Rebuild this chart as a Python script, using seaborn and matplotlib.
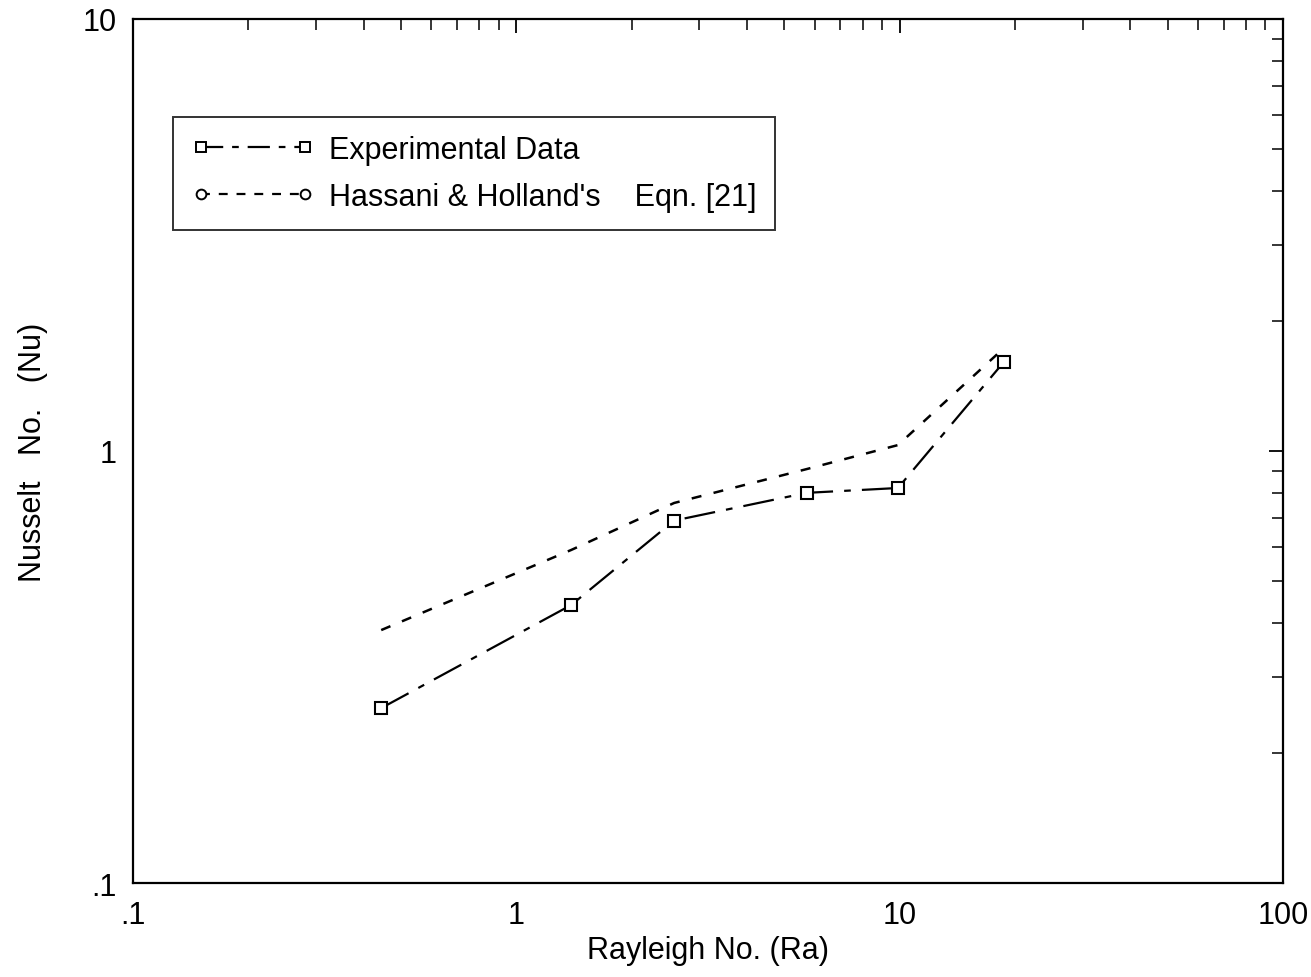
import matplotlib
matplotlib.use("Agg")
import matplotlib.pyplot as plt
from matplotlib.lines import Line2D
from matplotlib.ticker import FixedLocator, FixedFormatter, LogLocator, NullFormatter
import numpy as np
import pandas as pd
import seaborn as sns

# Rayleigh numbers of the test runs
rayleigh = [0.444, 1.39, 2.58, 5.72, 9.9, 18.7]
# Measured Nusselt numbers
nu_experimental = [0.254, 0.44, 0.69, 0.80, 0.821, 1.607]
# Hassani & Holland's correlation, Eqn. [21]
nu_hassani = [0.385, 0.59, 0.758, 0.908, 1.032, 1.73]

x_tick_labels = [".1", "1", "10", "100"]
y_tick_labels = [".1", "1", "10"]

sns.set_theme(style="white")
plt.rcParams["font.family"] = ["Liberation Sans Narrow", "Liberation Sans", "DejaVu Sans"]
plt.rcParams["text.color"] = "black"

df = pd.DataFrame({"Ra": rayleigh, "Exp": nu_experimental, "HH": nu_hassani})

fig = plt.figure(figsize=(13.11, 9.78), dpi=100)
ax = fig.add_axes([0.1015, 0.0961, 0.8771, 0.8835])

sns.lineplot(data=df, x="Ra", y="Exp", ax=ax, color="black", lw=1.6,
             marker="s", markersize=8, markerfacecolor="white",
             markeredgecolor="black", markeredgewidth=1.5, sort=False)
ax.lines[-1].set_dashes((14, 5, 3, 5))
sns.lineplot(data=df, x="Ra", y="HH", ax=ax, color="black", lw=1.8, sort=False)
ax.lines[-1].set_dashes((4, 5))

ax.set_xscale("log")
ax.set_yscale("log")
ax.set_xlim(0.1, 100)
ax.set_ylim(0.1, 10)

ax.xaxis.set_major_locator(FixedLocator([0.1, 1, 10, 100]))
ax.xaxis.set_major_formatter(FixedFormatter(x_tick_labels))
ax.yaxis.set_major_locator(FixedLocator([0.1, 1, 10]))
ax.yaxis.set_major_formatter(FixedFormatter(y_tick_labels))
for axis in (ax.xaxis, ax.yaxis):
    axis.set_minor_locator(LogLocator(base=10, subs=np.arange(2, 10)))
    axis.set_minor_formatter(NullFormatter())

ax.tick_params(which="both", direction="in", top=True, right=True,
               color="black", labelsize=22, labelcolor="black")
ax.tick_params(which="major", length=10, width=1.3, pad=12)
ax.tick_params(which="minor", length=8, width=1.1)

for s in ax.spines.values():
    s.set_color("black")
    s.set_linewidth(1.6)

ax.set_xlabel("Rayleigh No. (Ra)", fontsize=22, color="black", labelpad=4)
ax.set_ylabel("Nusselt   No.   (Nu)", fontsize=22, color="black")
ax.yaxis.set_label_coords(-0.074, 0.5)

handles = [
    Line2D([], [], color="black", lw=1.6, dashes=(10, 4, 3, 4), marker="s",
           markersize=7, markerfacecolor="white", markeredgecolor="black",
           markeredgewidth=1.4),
    Line2D([], [], color="black", lw=1.6, dashes=(4, 4), marker="o",
           markersize=7, markerfacecolor="white", markeredgecolor="black",
           markeredgewidth=1.4),
]
labels = ["Experimental Data", "Hassani & Holland's    Eqn. [21]"]
leg = ax.legend(handles, labels, loc="upper left", bbox_to_anchor=(0.035, 0.887),
                fontsize=22, frameon=True, fancybox=False, numpoints=2,
                handlelength=4.0, handletextpad=0.5, borderpad=0.6,
                labelspacing=0.55, borderaxespad=0)
leg.get_frame().set_edgecolor("black")
leg.get_frame().set_linewidth(1.4)
for t in leg.get_texts():
    t.set_color("black")

fig.savefig("out.png", dpi=100, facecolor="white")
